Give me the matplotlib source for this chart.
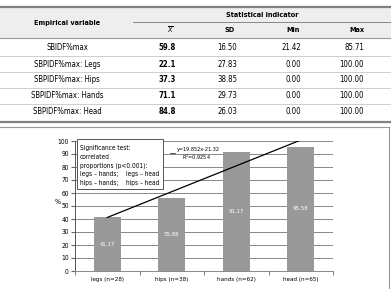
import matplotlib
matplotlib.use("Agg")
import matplotlib.pyplot as plt
from matplotlib.lines import Line2D
from matplotlib.patches import Rectangle
import numpy as np

plt.rcParams["font.family"] = ["DejaVu Sans"]
plt.rcParams["font.stretch"] = "condensed"

# table data
row_labels = ["SBIDF%max", "SBPIDF%max: Legs", "SBPIDF%max: Hips",
              "SBPIDF%max: Hands", "SBPIDF%max: Head"]
means = ["59.8", "22.1", "37.3", "71.1", "84.8"]
sds = ["16.50", "27.83", "38.85", "29.73", "26.03"]
mins = ["21.42", "0.00", "0.00", "0.00", "0.00"]
maxs = ["85.71", "100.00", "100.00", "100.00", "100.00"]
col_heads = [r"$\overline{X}$", "SD", "Min", "Max"]

# chart data
categories = ["legs (n=28)", "hips (n=38)", "hands (n=62)", "head (n=65)"]
values = [41.17, 55.88, 91.17, 95.58]
trend_slope, trend_icept = 19.852, 21.32
eq_text = "y=19.852x-21.32"
r2_text = "R$^2$=0.9254"
sig_lines = ["Significance test:", "correlated", "proportions (p<0.001):"]
sig_pairs = [("legs \u2013 hands;", "legs \u2013 head"),
             ("hips \u2013 hands;", "hips \u2013 head")]

W, H = 391, 289
fig = plt.figure(figsize=(W / 100, H / 100), dpi=100)


def px(x, y):
    return x / W, 1 - y / H


def hline(x0, x1, y, lw=0.6, color="#aaaaaa"):
    fig.add_artist(Line2D([x0 / W, x1 / W], [1 - y / H, 1 - y / H],
                          transform=fig.transFigure, lw=lw, color=color))


def ftext(x, y, s, **kw):
    kw.setdefault("fontsize", 5.6)
    kw.setdefault("va", "center")
    fig.text(*px(x, y), s, **kw)


# ---- table ----
fig.add_artist(Rectangle(px(0, 38), 1, 31 / H, transform=fig.transFigure,
                         facecolor="#eeeeee", edgecolor="none"))
hline(0, W, 7, lw=1.6, color="#808080")
hline(133, W, 22, lw=0.6, color="#777777")
hline(0, W, 38, lw=0.8, color="#999999")
for i in range(1, 5):
    hline(0, W, 40 + 16 * i, lw=0.5, color="#bbbbbb")
hline(0, W, 122, lw=1.6, color="#808080")

ftext(67, 23, "Empirical variable", ha="center", fontweight="bold",
      fontsize=5.2)
ftext(262, 15, "Statistical indicator", ha="center", fontweight="bold",
      fontsize=5.2)
head_x = [170, 230, 293, 357]
for x, s in zip(head_x, col_heads):
    ftext(x, 29.5, s, ha="center", fontweight="bold", fontsize=5.2)

right_x = [176, 237, 301, 364]
for i, lab in enumerate(row_labels):
    y = 48 + 16 * i
    ftext(67, y, lab, ha="center")
    ftext(right_x[0], y, means[i], ha="right", fontweight="bold")
    ftext(right_x[1], y, sds[i], ha="right")
    ftext(right_x[2], y, mins[i], ha="right")
    ftext(right_x[3], y, maxs[i], ha="right")

# ---- chart frame ----
hline(0, 389, 127, lw=0.8, color="#999999")
fig.add_artist(Line2D([389 / W, 389 / W], [0, 1 - 127 / H],
                      transform=fig.transFigure, lw=0.8, color="#999999"))

ax = fig.add_axes([75 / W, (H - 271) / H, 258 / W, 130 / H])
x = np.arange(len(categories))
ax.bar(x, values, width=0.42, color="#999999", zorder=2)
for xi, v in zip(x, values):
    ax.text(xi, v / 2, f"{v:.2f}", ha="center", va="center",
            color="white", fontsize=4.3, zorder=3)

tx = np.array([0, 3])
ty = trend_slope * (tx + 1) + trend_icept
ax.plot(tx, ty, color="black", lw=0.9, zorder=4)

ax.set_xlim(-0.5, 3.5)
ax.set_ylim(0, 100)
ax.set_yticks(np.arange(0, 101, 10))
ax.yaxis.grid(True, color="#888888", lw=0.7, zorder=0)
ax.set_xticks(x)
ax.set_xticklabels(categories, fontsize=4.5)
ax.set_xticks(np.arange(-0.5, 4, 1), minor=True)
ax.tick_params(axis="x", which="major", length=0, pad=4)
ax.tick_params(axis="x", which="minor", length=3, color="#666666")
ax.tick_params(axis="y", labelsize=4.8, length=3, color="#666666", pad=1.5)
for s in ["top", "right"]:
    ax.spines[s].set_visible(False)
ax.spines["left"].set_color("#555555")
ax.spines["bottom"].set_color("#888888")
ax.spines["left"].set_linewidth(0.7)
ax.spines["bottom"].set_linewidth(0.7)

ftext(58, 202, "%", ha="center", fontsize=5)

# significance box
fig.add_artist(Rectangle(px(77, 189), 86 / W, 50 / H, transform=fig.transFigure,
                         facecolor="white", edgecolor="#555555", lw=0.7,
                         zorder=5))
for i, s in enumerate(sig_lines):
    ftext(80, 148 + 8.7 * i, s, fontsize=4.7, zorder=6)
for i, (a, b) in enumerate(sig_pairs):
    ftext(80, 174 + 8.7 * i, a, fontsize=4.7, zorder=6)
    ftext(126, 174 + 8.7 * i, b, fontsize=4.7, zorder=6)

# equation label
hline(170, 175, 153, lw=0.6, color="#333333")
ftext(177, 149, eq_text, fontsize=4.0)
ftext(211, 157.5, r2_text, fontsize=4.0, ha="right")

fig.savefig("out.png", dpi=100)
